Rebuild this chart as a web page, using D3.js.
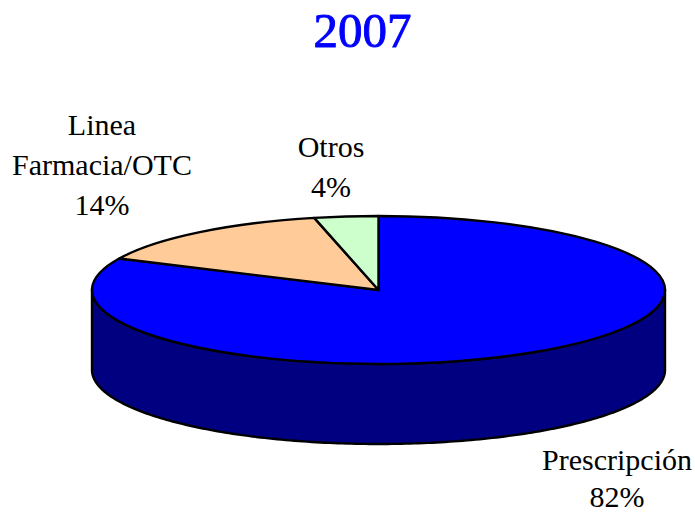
<!DOCTYPE html>
<html><head><meta charset="utf-8">
<script src="https://cdn.jsdelivr.net/npm/d3@7/dist/d3.min.js"></script>
<style>html,body{margin:0;padding:0;background:#fff}svg{display:block}</style>
</head><body><svg id="c" width="695" height="514"></svg>
<script>
const categories = ["Prescripción", "Linea Farmacia/OTC", "Otros"];
const values = [82, 14.4, 3.6];
const shownPercent = ["82%", "14%", "4%"];
const topColors = ["#0000ff", "#ffcc99", "#ccffcc"];
const sideColors = ["#000080", "#806650", "#668066"];
const titleText = "2007";
const labelLines = [["Prescripción", "82%"], ["Linea", "Farmacia/OTC", "14%"], ["Otros", "4%"]];
const labelAnchors = [[617, 470], [102, 135], [331, 157]];
const labelLeading = [37, 40, 40];

const W = 695, H = 514, cx = 378.5, cy = 290, rx = 286.5, ry = 74, depth = 80;
const svg = d3.select("#c");
const font = "'Liberation Serif','Times New Roman',serif";

svg.append("text").attr("x", 362.5).attr("y", 47).attr("text-anchor", "middle")
  .attr("font-family", font).attr("font-size", 48).attr("fill", "#0000ff")
  .attr("stroke", "#0000ff").attr("stroke-width", 0.9)
  .attr("textLength", 98).attr("lengthAdjust", "spacingAndGlyphs").text(titleText);

const pie = d3.pie().sort(null).value(d => d);
const slices = pie(values);

// side wall: front half of the rim
const rimAngle = d3.scaleLinear().domain([0, 1]).range([Math.PI / 2, Math.PI * 1.5]);
const wall = d3.area()
  .x(t => cx + rx * Math.sin(rimAngle(t)))
  .y0(t => cy - ry * Math.cos(rimAngle(t)))
  .y1(t => cy - ry * Math.cos(rimAngle(t)) + depth);
svg.append("path").attr("d", wall(d3.range(0, 1.0001, 0.005)))
  .attr("fill", sideColors[0]).attr("stroke", "#000").attr("stroke-width", 2.4).attr("stroke-linejoin", "round");

const arc = d3.arc().innerRadius(0).outerRadius(rx);
svg.append("g").attr("transform", `translate(${cx},${cy}) scale(1,${ry / rx})`)
  .selectAll("path").data(slices).join("path")
  .attr("d", arc).attr("fill", (d, i) => topColors[i])
  .attr("stroke", "#000").attr("stroke-width", 2.4).attr("stroke-linejoin", "round")
  .attr("vector-effect", "non-scaling-stroke");

labelLines.forEach((lines, i) => {
  const t = svg.append("text").attr("text-anchor", "middle")
    .attr("font-family", font).attr("font-size", 30).attr("fill", "#000");
  lines.forEach((l, j) => t.append("tspan").attr("x", labelAnchors[i][0])
    .attr("y", labelAnchors[i][1] + j * labelLeading[i]).text(l));
});
</script></body></html>
